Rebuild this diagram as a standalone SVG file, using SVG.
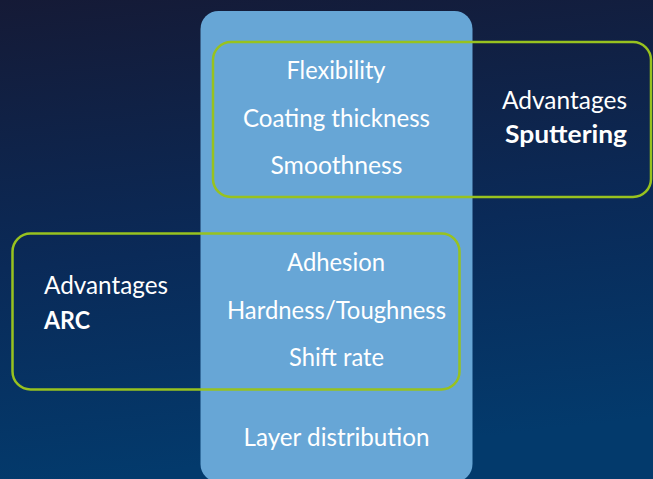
<svg xmlns="http://www.w3.org/2000/svg" width="653" height="479" viewBox="0 0 653 479">
<defs>
<linearGradient id="bg" x1="0" y1="0" x2="0.15" y2="1">
<stop offset="0" stop-color="#151a36"/>
<stop offset="0.55" stop-color="#0a2a58"/>
<stop offset="1" stop-color="#033a6c"/>
</linearGradient>
<style>
.t{font-family:Lato,"Open Sans",sans-serif;font-size:24.5px;fill:#ffffff}
.c{text-anchor:middle}
.b{font-weight:bold}
.box{fill:none;stroke:#98c21f;stroke-width:2.5}
</style>
</defs>
<rect width="653" height="479" fill="url(#bg)"/>
<g id="column">
<rect x="200.5" y="11" width="272" height="471" rx="18" fill="#67a6d6"/>
<text class="t c" x="336" y="79" textLength="99" lengthAdjust="spacingAndGlyphs">Flexibility</text>
<text class="t c" x="336.5" y="127" textLength="187" lengthAdjust="spacingAndGlyphs">Coating thickness</text>
<text class="t c" x="336.5" y="174" textLength="132" lengthAdjust="spacingAndGlyphs">Smoothness</text>
<text class="t c" x="336" y="271" textLength="98" lengthAdjust="spacingAndGlyphs">Adhesion</text>
<text class="t c" x="336.5" y="319" textLength="219" lengthAdjust="spacingAndGlyphs">Hardness/Toughness</text>
<text class="t c" x="336.5" y="366" textLength="95" lengthAdjust="spacingAndGlyphs">Shift rate</text>
<text class="t c" x="336.5" y="446" textLength="186" lengthAdjust="spacingAndGlyphs">Layer distribution</text>
</g>
<g id="sputtering">
<rect class="box" x="213" y="42" width="438" height="155" rx="18"/>
<text class="t" x="502" y="109" textLength="125" lengthAdjust="spacingAndGlyphs">Advantages</text>
<text class="t b" x="505" y="143" textLength="122" lengthAdjust="spacingAndGlyphs">Sputtering</text>
</g>
<g id="arc">
<rect class="box" x="12.5" y="233.5" width="447" height="156" rx="18"/>
<text class="t" x="44" y="294" textLength="124" lengthAdjust="spacingAndGlyphs">Advantages</text>
<text class="t b" x="44" y="329" textLength="46" lengthAdjust="spacingAndGlyphs">ARC</text>
</g>
<g id="connectors"/>
</svg>
